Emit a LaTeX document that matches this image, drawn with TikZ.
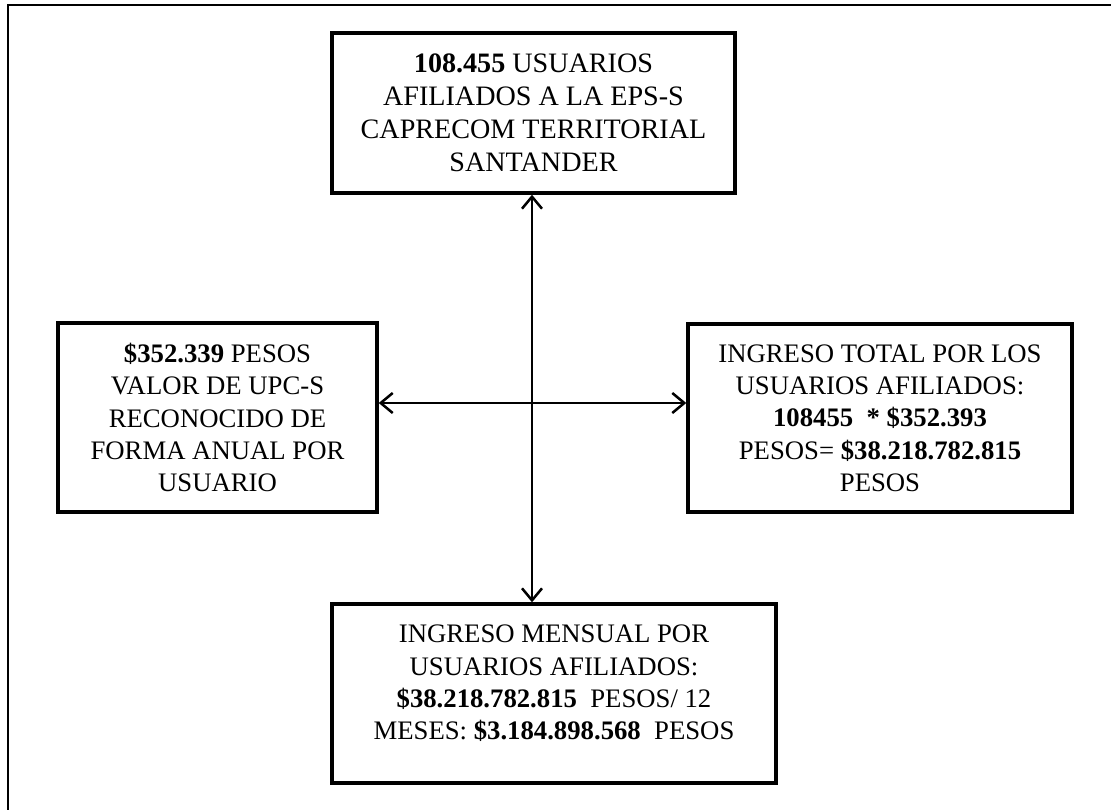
\documentclass[tikz,border=0pt]{standalone}
\usepackage{fontspec}
\setmainfont{Liberation Serif}
\usetikzlibrary{arrows.meta}

\begin{document}
\begin{tikzpicture}[x = 0.025cm, y = -0.025cm,
		caja/.style = {draw, line width = 2.4pt, align = center, inner sep = 2pt, font = \fontsize{19}{23}\selectfont},
		flecha/.style = {line width = 1.8pt, {Straight Barb[length=0.3cm,width=0.5cm]}-{Straight Barb[length=0.3cm,width=0.5cm]}}]
			\useasboundingbox (0,0) rectangle (1111,810);
			
			\draw[line width = 1.6pt] (1111,5) -- (8,5) -- (8,810); % marco
			
			\node[caja, minimum width = 10.075cm, minimum height = 4cm, font = \fontsize{20}{23.5}\selectfont] (usuarios) at (533.5,113)
				{\textbf{108.455} USUARIOS\\ AFILIADOS A LA EPS-S\\ CAPRECOM TERRITORIAL\\ SANTANDER};
			\node[caja, minimum width = 7.975cm, minimum height = 4.725cm] (upc) at (217.5,417.5)
				{\textbf{\$352.339} PESOS\\ VALOR DE UPC-S\\ RECONOCIDO DE\\ FORMA ANUAL POR\\ USUARIO};
			\node[caja, minimum width = 9.6cm, minimum height = 4.7cm] (total) at (880,418)
				{INGRESO TOTAL POR LOS\\ USUARIOS AFILIADOS:\\ \textbf{108455 \ * \$352.393}\\ PESOS= \textbf{\$38.218.782.815}\\ PESOS};
			\node[caja, minimum width = 11.1cm, minimum height = 4.475cm] (mensual) at (554,693.5)
				{INGRESO MENSUAL POR\\ USUARIOS AFILIADOS:\\ \textbf{\$38.218.782.815} \ PESOS/ 12\\ MESES: \textbf{\$3.184.898.568} \ PESOS\\[-0.25cm]};
			
			\coordinate (cruce) at (532,403);
			
			\draw[flecha] (usuarios.south -| cruce) -- (mensual.north -| cruce); % vertical
			\draw[flecha] (upc.east |- cruce) -- (total.west |- cruce); % horizontal
		\end{tikzpicture}
\end{document}
